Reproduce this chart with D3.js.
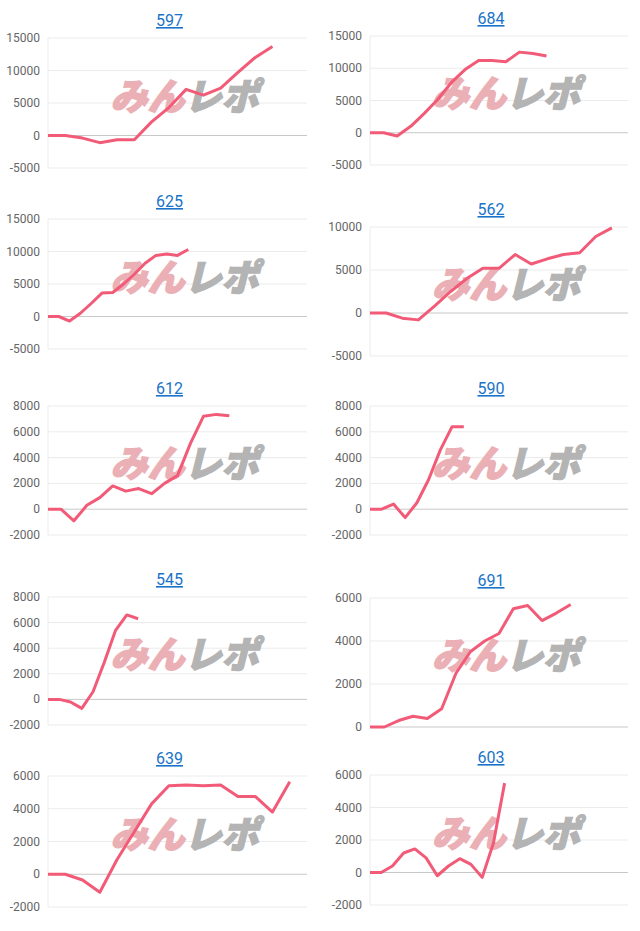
<!DOCTYPE html>
<html><head><meta charset="utf-8">
<script src="https://cdn.jsdelivr.net/npm/d3@7"></script>
<style>body{margin:0;background:#fff}</style>
</head><body>
<script>
// chart titles
const titles = ['597', '684', '625', '562', '612', '590', '545', '691', '639', '603'];
// y tick values per chart
const ticksA = [-5000, 0, 5000, 10000, 15000];
const ticksD = [-5000, 0, 5000, 10000];
const ticksE = [-2000, 0, 2000, 4000, 6000, 8000];
const ticksH = [0, 2000, 4000, 6000];
const ticksI = [-2000, 0, 2000, 4000, 6000];
// series values
const s597 = [0, 0, -400, -1100, -650, -650, 2100, 4300, 7100, 6200, 7300, 9700, 12000, 13700];
const s684 = [0, 0, -500, 1000, 3000, 5200, 7800, 9800, 11200, 11200, 11000, 12500, 12300, 11900];
const s625 = [0, 0, -700, 500, 2000, 3600, 3700, 5000, 6500, 8200, 9400, 9600, 9400, 10300];
const s562 = [0, 0, -600, -800, 800, 2500, 4000, 5200, 5200, 6800, 5700, 6300, 6800, 7000, 8900, 9900];
const s612 = [0, 0, -900, 300, 900, 1800, 1400, 1600, 1200, 2000, 2600, 5100, 7200, 7350, 7250];
const s590 = [0, 0, 400, -650, 500, 2300, 4600, 6400, 6400];
const s545 = [0, 0, -200, -700, 600, 2900, 5400, 6600, 6300];
const s691 = [0, 0, 300, 500, 400, 850, 2500, 3500, 4000, 4350, 5500, 5650, 4950, 5300, 5700];
const s639 = [0, 0, -350, -1100, 900, 2600, 4300, 5400, 5450, 5400, 5450, 4750, 4750, 3800, 5650];
const s603 = [0, 0, 400, 1200, 1450, 900, -200, 400, 850, 500, -300, 1800, 5500];

const L = [48, 307], R = [370, 628];
const charts = [
  { t: 0, d: s597, ticks: ticksA, xr: L, yr: [168, 38], n: 15 },
  { t: 1, d: s684, ticks: ticksA, xr: R, yr: [165, 36], n: 19 },
  { t: 2, d: s625, ticks: ticksA, xr: L, yr: [349, 219], n: 24 },
  { t: 3, d: s562, ticks: ticksD, xr: R, yr: [356, 227], n: 16 },
  { t: 4, d: s612, ticks: ticksE, xr: L, yr: [535, 406], n: 20 },
  { t: 5, d: s590, ticks: ticksE, xr: R, yr: [535, 406], n: 22 },
  { t: 6, d: s545, ticks: ticksE, xr: L, yr: [725, 597], n: 23 },
  { t: 7, d: s691, ticks: ticksH, xr: R, yr: [727, 598], n: 18 },
  { t: 8, d: s639, ticks: ticksI, xr: L, yr: [907, 776], n: 15 },
  { t: 9, d: s603, ticks: ticksI, xr: R, yr: [905, 775], n: 23 }
];

const svg = d3.select('body').append('svg').attr('width', 640).attr('height', 931);

charts.forEach(c => {
  const x = d3.scaleLinear().domain([0, c.n]).range(c.xr);
  const y = d3.scaleLinear().domain(d3.extent(c.ticks)).range(c.yr);
  const g = svg.append('g');

  g.selectAll('.grid').data(c.ticks).enter().append('line')
    .attr('x1', c.xr[0]).attr('x2', c.xr[1])
    .attr('y1', d => y(d)).attr('y2', d => y(d))
    .attr('stroke', d => d === 0 ? '#c8c8c8' : '#ebebeb').attr('stroke-width', 1);
  g.append('line').attr('x1', c.xr[0]).attr('x2', c.xr[0])
    .attr('y1', c.yr[0]).attr('y2', c.yr[1]).attr('stroke', '#ebebeb');

  g.selectAll('.lab').data(c.ticks).enter().append('text')
    .attr('x', c.xr[0] - 8).attr('y', d => y(d) + 4)
    .attr('text-anchor', 'end').attr('font-family', 'Roboto, sans-serif')
    .attr('font-size', 12).attr('fill', '#666').text(d => d);

  // watermark
  const cx = c.xr[0] + (c.xr[1] - c.xr[0]) * 0.54;
  const cy = c.yr[1] + (c.yr[0] - c.yr[1]) * 0.45;
  const wm = g.append('g').attr('transform', `translate(${cx},${cy}) skewX(-14)`);
  const wt = wm.append('text').attr('y', 13)
    .attr('text-anchor', 'middle').attr('font-family', '"Noto Sans CJK JP", sans-serif')
    .attr('font-size', 37).attr('font-weight', 900)
    .attr('stroke-width', 1.5);
  wt.append('tspan').attr('fill', '#ebb0b5').attr('stroke', '#ebb0b5').text('みん');
  wt.append('tspan').attr('fill', '#b4b4b4').attr('stroke', '#b4b4b4').text('レポ');

  g.append('path').datum(c.d)
    .attr('d', d3.line().x((d, i) => x(i)).y(d => y(d)))
    .attr('fill', 'none').attr('stroke', '#f25b78').attr('stroke-width', 3)
    .attr('stroke-linejoin', 'round');

  g.append('text').attr('x', (c.xr[0] + c.xr[1]) / 2 - 8).attr('y', c.yr[1] - 12)
    .attr('text-anchor', 'middle').attr('font-family', 'Roboto, sans-serif')
    .attr('font-size', 16).attr('fill', '#1a73c8')
    .attr('text-decoration', 'underline').text(titles[c.t]);
});
</script>
</body></html>
